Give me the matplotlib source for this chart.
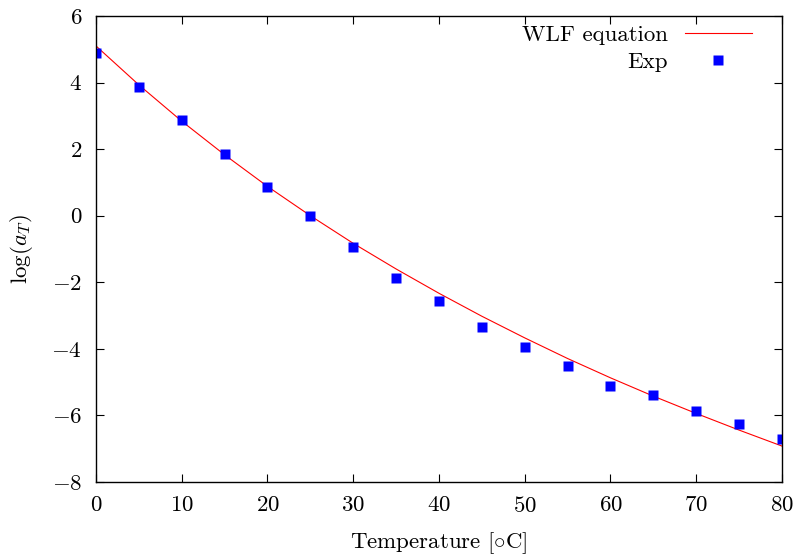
import numpy as np
import matplotlib
matplotlib.use("Agg")
import matplotlib.pyplot as plt

# data
temp_exp = [0, 5, 10, 15, 20, 25, 30, 35, 40, 45, 50, 55, 60, 65, 70, 75, 80]
log_at_exp = [4.89, 3.87, 2.88, 1.85, 0.86, 0.0, -0.94, -1.87, -2.55, -3.33,
              -3.93, -4.51, -5.11, -5.40, -5.86, -6.26, -6.72]

temp_wlf = [0, 5, 10, 15, 20, 25, 30, 35, 40, 45, 50, 55, 60, 65, 70, 75, 80]
log_at_wlf = [5.10, 3.93, 2.84, 1.83, 0.88, 0.0, -0.83, -1.60, -2.33, -3.02,
              -3.67, -4.29, -4.87, -5.42, -5.94, -6.44, -6.92]

x_ticks = [0, 10, 20, 30, 40, 50, 60, 70, 80]
y_ticks = [-8, -6, -4, -2, 0, 2, 4, 6]

plt.rcParams['font.family'] = 'serif'
plt.rcParams['font.serif'] = ['cmr10']
plt.rcParams['mathtext.fontset'] = 'cm'
plt.rcParams['axes.formatter.use_mathtext'] = True
plt.rcParams['font.size'] = 16.5

fig = plt.figure(figsize=(7.96, 5.59), dpi=100)
ax = fig.add_axes([0.1206, 0.1377, 0.8618, 0.8337])

ax.plot(temp_wlf, log_at_wlf, color='#ff0000', lw=0.8, label='WLF equation')
ax.plot(temp_exp, log_at_exp, 's', color='#0000ff', ms=6.5, mec='none', label='Exp')

ax.set_xlim(0, 80)
ax.set_ylim(-8, 6)
ax.set_xticks(x_ticks)
ax.set_yticks(y_ticks)
ax.tick_params(axis='x', direction='in', top=True, length=6, width=0.8, pad=10)
ax.tick_params(axis='y', direction='in', right=True, length=6, width=0.8, pad=10)
for s in ax.spines.values():
    s.set_linewidth(1.0)

ax.set_xlabel(r'Temperature [$\circ$C]', labelpad=10)
ax.set_ylabel(r'$\log(a_T)$', labelpad=12)

ax.legend(loc='upper right', frameon=False, markerfirst=False, handlelength=2.9,
          borderaxespad=0, labelspacing=0.3, handletextpad=0.75,
          bbox_to_anchor=(0.969, 1.0))

fig.savefig('out.png', dpi=100)
